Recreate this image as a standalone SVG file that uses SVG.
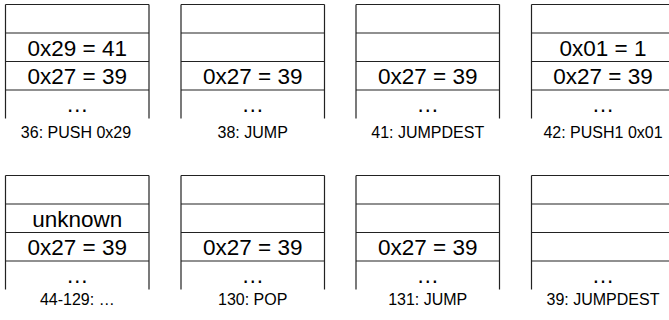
<svg xmlns="http://www.w3.org/2000/svg" xmlns:xlink="http://www.w3.org/1999/xlink" width="669" height="320" viewBox="0 0 669 320">
<style>
.f{fill:none;stroke:#222;stroke-width:1.2}
.v{font-family:"Liberation Sans",Arial,sans-serif;font-size:22.5px;fill:#000;text-anchor:middle}
.l{font-family:"Liberation Sans",Arial,sans-serif;font-size:16px;fill:#000;text-anchor:middle}
</style>
<defs>
<g id="frame">
<path class="f" d="M0,0V114M143.5,0V114M0,0H143.5M0,28.5H143.5M0,57H143.5M0,85.5H143.5"/>
</g>
</defs>
<rect width="669" height="320" fill="#fff"/>
<g id="s36">
<use xlink:href="#frame" x="5.5" y="4.5"/>
<text class="v" x="77.3" y="55.5">0x29 = 41</text>
<text class="v" x="77.3" y="84">0x27 = 39</text>
<text class="v" x="77.3" y="112">…</text>
<text class="l" x="76" y="137.5">36: PUSH 0x29</text>
</g>
<g id="s38">
<use xlink:href="#frame" x="181" y="4.5"/>
<text class="v" x="252.7" y="84">0x27 = 39</text>
<text class="v" x="252.7" y="112">…</text>
<text class="l" x="252.7" y="137.5">38: JUMP</text>
</g>
<g id="s41">
<use xlink:href="#frame" x="356" y="4.5"/>
<text class="v" x="427.7" y="84">0x27 = 39</text>
<text class="v" x="427.7" y="112">…</text>
<text class="l" x="427.7" y="137.5">41: JUMPDEST</text>
</g>
<g id="s42">
<use xlink:href="#frame" x="531.5" y="4.5"/>
<text class="v" x="603" y="55.5">0x01 = 1</text>
<text class="v" x="603" y="84">0x27 = 39</text>
<text class="v" x="603" y="112">…</text>
<text class="l" x="603" y="137.5">42: PUSH1 0x01</text>
</g>
<g id="s44">
<use xlink:href="#frame" x="5.5" y="175.5"/>
<text class="v" x="77.3" y="226.5">unknown</text>
<text class="v" x="77.3" y="255">0x27 = 39</text>
<text class="v" x="77.3" y="283">…</text>
<text class="l" x="77.3" y="304.5">44-129: …</text>
</g>
<g id="s130">
<use xlink:href="#frame" x="181" y="175.5"/>
<text class="v" x="252.7" y="255">0x27 = 39</text>
<text class="v" x="252.7" y="283">…</text>
<text class="l" x="252.7" y="304.5">130: POP</text>
</g>
<g id="s131">
<use xlink:href="#frame" x="356" y="175.5"/>
<text class="v" x="427.7" y="255">0x27 = 39</text>
<text class="v" x="427.7" y="283">…</text>
<text class="l" x="427.7" y="304.5">131: JUMP</text>
</g>
<g id="s39">
<use xlink:href="#frame" x="531.5" y="175.5"/>
<text class="v" x="603" y="283">…</text>
<text class="l" x="603" y="304.5">39: JUMPDEST</text>
</g>
</svg>
